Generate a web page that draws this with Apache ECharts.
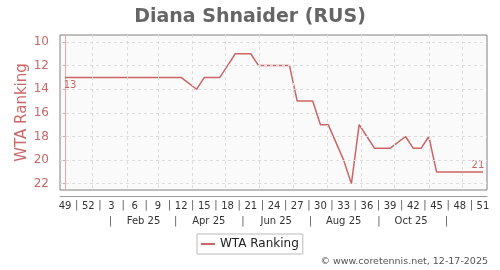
<!DOCTYPE html>
<html>
<head>
<meta charset="utf-8">
<script src="https://cdn.jsdelivr.net/npm/echarts@6/dist/echarts.min.js"></script>
<style>
html,body{margin:0;padding:0;background:#fff;}
#chart{width:500px;height:270px;}
</style>
</head>
<body>
<div id="chart"></div>
<script>
// ---- data ----
const weekLabels = [49,50,51,52,1,2,3,4,5,6,7,8,9,10,11,12,13,14,15,16,17,18,19,20,21,22,23,24,25,26,27,28,29,30,31,32,33,34,35,36,37,38,39,40,41,42,43,44,45,46,47,48,49,50,51];
const ranks = [13,13,13,13,13,13,13,13,13,13,13,13,13,13,13,13,
  13.5,14,13,13,13,12,11,11,11,12,12,12,12,12,15,15,15,17,17,18.5,20,22,17,18,19,19,19,18.5,18,19,19,18,21,21,21,21,21,21,21];
const yTicks = [10,12,14,16,18,20,22];
const monthLabels = ['Feb 25','Apr 25','Jun 25','Aug 25','Oct 25'];
const monthLabelDates = ['2025-02-16','2025-04-16','2025-06-16','2025-08-16','2025-10-16'];
const monthSepDates = ['2025-01-17','2025-03-17','2025-05-17','2025-07-17','2025-09-17','2025-11-17'];
const monthStartDates = ['2025-01-01','2025-02-01','2025-03-01','2025-04-01','2025-05-01','2025-06-01','2025-07-01','2025-08-01','2025-09-01','2025-10-01','2025-11-01','2025-12-01'];
const seriesName = 'WTA Ranking';

// ---- helpers ----
const baseDate = Date.UTC(2024, 11, 7);
function pos(d){ return (Date.parse(d + 'T00:00:00Z') - baseDate) / (7*86400000); }
const XMIN = -0.65, XMAX = 54.52;
const labelIdx = weekLabels.map((w,i)=>i).filter(i => i % 3 === 0);
const sepIdx = labelIdx.slice(0,-1).map(i => i + 1.5);
const monthLabelPos = monthLabelDates.map(pos);
const monthSepPos = monthSepDates.map(pos);
const font = 'DejaVu Sans';
const red = '#cc6666';

const seriesData = ranks.map((v,i) => {
  const item = {value:[i, v]};
  if (i === 0) item.label = {show:true, position:'bottom', distance:3, offset:[5,0]};
  if (i === ranks.length-1) item.label = {show:true, position:'top', distance:2, offset:[-5,0]};
  return item;
});

function baseX(extra){
  return Object.assign({
    type:'value', min:XMIN, max:XMAX, gridIndex:0, position:'bottom',
    axisLine:{show:false}, axisTick:{show:false}, splitLine:{show:false},
    axisLabel:{show:false}
  }, extra);
}

const chart = echarts.init(document.getElementById('chart'), null, {renderer:'canvas'});
chart.setOption({
  animation:false,
  backgroundColor:'#fff',
  textStyle:{fontFamily:font},
  title:{
    text:'Diana Shnaider (RUS)', left:'center', top:3,
    textStyle:{fontFamily:font, fontWeight:'bold', fontSize:19, color:'#666'}
  },
  legend:{
    data:[{name:seriesName, icon:'rect'}], left:197, top:234,
    borderColor:'#bbb', borderWidth:1, padding:[4,4,4,4],
    itemWidth:14, itemHeight:2, itemGap:5,
    textStyle:{fontFamily:font, fontSize:12, color:'#222'}
  },
  graphic:[{
    type:'text', right:12, top:257,
    style:{text:'\u00a9 www.coretennis.net, 12-17-2025', fill:'#555', font:'9.5px "DejaVu Sans"'}
  }],
  grid:{left:60, right:13, top:35, bottom:80, show:true, backgroundColor:'#fafafa', borderColor:'#808080', borderWidth:1},
  xAxis:[
    baseX({}),
    baseX({offset:6, axisLine:{show:true, lineStyle:{color:'#999', width:1}},
      axisLabel:{show:true, customValues:labelIdx, margin:5, fontSize:10, color:'#333', fontFamily:font,
        formatter:(v)=> String(weekLabels[Math.round(v)])}}),
    baseX({offset:6, axisLabel:{show:true, customValues:sepIdx, margin:4, fontSize:10, color:'#555', fontFamily:font, formatter:()=>'|'}}),
    baseX({offset:6, axisLabel:{show:true, customValues:monthLabelPos, margin:20, fontSize:10, color:'#333', fontFamily:font,
      formatter:(v)=>{ const k = monthLabelPos.findIndex(p=>Math.abs(p-v)<1e-6); return k>=0?monthLabels[k]:''; }}}),
    baseX({offset:6, axisLabel:{show:true, customValues:monthSepPos, margin:20, fontSize:10, color:'#555', fontFamily:font, formatter:()=>'|'}})
  ],
  yAxis:{
    type:'value', inverse:true, min:9.41, max:22.53, offset:5,
    name:'WTA Ranking', nameLocation:'middle', nameGap:25, nameMoveOverlap:false,
    nameTextStyle:{fontFamily:font, fontSize:15, color:red},
    axisLine:{show:true, lineStyle:{color:'#e0aaaa', width:1}},
    axisTick:{show:true, customValues:yTicks, length:5, lineStyle:{color:'#e0aaaa'}},
    axisLabel:{customValues:yTicks, margin:6, fontSize:12, color:red, fontFamily:font},
    splitLine:{show:false}
  },
  series:[
    {
      name:'_grid', type:'line', data:[], silent:true, z:1, xAxisIndex:0,
      markLine:{
        silent:true, symbol:['none','none'], animation:false, label:{show:false},
        lineStyle:{type:[3,3], color:'#dddddd', width:1},
        data: monthStartDates.map(d=>({xAxis:pos(d)})).concat(yTicks.map(v=>({yAxis:v})))
      }
    },
    {
      name:seriesName, type:'line', data:seriesData, xAxisIndex:0, z:3,
      symbol:'circle', symbolSize:0, showSymbol:true,
      lineStyle:{color:red, width:1.5}, itemStyle:{color:red},
      label:{show:false, color:red, fontSize:10, fontFamily:font, formatter:(p)=>String(p.value[1])}
    }
  ]
});
</script>
</body>
</html>
